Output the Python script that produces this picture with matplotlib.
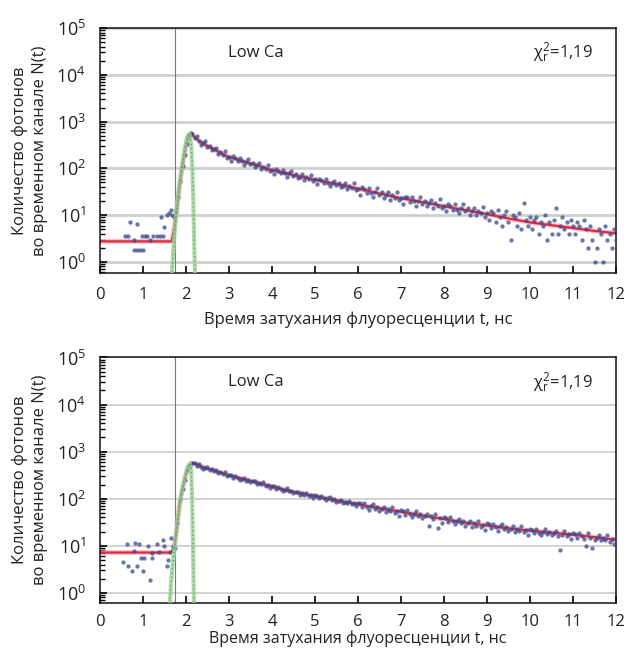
import numpy as np
import matplotlib
matplotlib.use("Agg")
import matplotlib.pyplot as plt
from matplotlib.ticker import LogLocator, FixedLocator, NullFormatter

plt.rcParams['font.family'] = ['Open Sans', 'DejaVu Sans']
plt.rcParams['mathtext.fontset'] = 'custom'
plt.rcParams['mathtext.rm'] = 'Open Sans'
plt.rcParams['mathtext.it'] = 'Open Sans'

# ---------------- data ----------------
x_ticks = list(range(0, 13))
y_decades = [1e0, 1e1, 1e2, 1e3, 1e4, 1e5]
excitation_t = 1.75
xlabel = "Время затухания флуоресценции t, нс"
ylabel = "Количество фотонов\nво временном канале N(t)"
label_sample = "Low Ca"
label_chi = "χ$^{2}_{r}$=1,19"

# decay channels (regular grid of 0.05 ns)
decay_step = 0.05
top_decay_start = 2.15
top_decay_counts = [
    546, 437, 482, 378, 314, 347, 378, 285, 305, 243,
    255, 276, 201, 224, 197, 238, 170, 177,
    143, 180, 168, 144, 168, 142, 121, 139, 156, 122,
    133, 108, 116, 128, 95, 108, 97, 120, 87, 93,
    76, 96, 90, 78, 92, 78, 67, 78, 87, 68,
    75, 62, 67, 75, 56, 66, 59, 73, 53, 58,
    47, 60, 57, 49, 58, 49, 43, 49, 55, 44,
    48, 40, 43, 48, 36, 42, 38, 48, 35, 37,
    27, 40, 37, 30, 39, 30, 24, 31, 38, 27,
    31, 23, 27, 32, 21, 27, 23, 32, 21, 23,
    17, 25, 24, 19, 25, 20, 16, 20, 25, 17,
    20, 16, 18, 21, 14, 18, 16, 22, 14, 16,
    12, 17, 16, 13, 17, 13, 11, 14, 17, 12,
    14, 10, 12, 14, 10, 12, 11, 15, 9, 11,
    8, 12, 11, 7, 13, 9, 6, 10, 12, 7,
    3, 10, 9, 6, 11, 5, 18, 8, 6, 9,
    5, 8, 9, 4, 7, 6, 10, 3, 7, 4,
    8, 14, 4, 6, 9, 5, 7, 4, 8, 6,
    4, 7, 6, 3, 8, 5, 2, 6, 3, 1,
    2, 5, 4, 1, 6, 3, 4, 2, 5, 3,
]
top_pre_t = [0.58, 0.65, 0.70, 0.78, 0.78, 0.85, 0.87, 0.93, 0.97, 1.00,
             1.05, 1.10, 1.17, 1.23, 1.32, 1.40, 1.41, 1.46, 1.49, 1.55,
             1.60, 1.64, 1.67, 1.72, 1.77, 1.82, 1.87, 1.92, 1.97, 2.02,
             2.07, 2.11]
top_pre_n = [3.6, 3.6, 7.3, 1.8, 3.0, 1.8, 6.5, 1.8, 3.6, 1.8,
             3.6, 3.6, 3.0, 3.6, 3.6, 3.6, 9.0, 3.6, 5.5, 10,
             11, 13, 10, 9, 12, 25, 55, 110, 190, 330,
             470, 560]

top_fit_t = [0, 1.67, 1.72, 1.77, 1.85, 1.90, 1.95, 2.00, 2.05, 2.10, 2.20,
             2.30, 2.40, 2.60, 2.80, 3.0, 3.5, 4.0, 4.5, 5.0, 5.5, 6.0, 6.5,
             7.0, 7.5, 8.0, 8.5, 9.0, 9.5, 10.0, 10.5, 11.0, 11.5, 12.0]
top_fit_n = [2.75, 2.75, 5, 10, 40, 90, 170, 300, 450, 555, 470,
             390, 340, 270, 215, 175, 128, 92, 72, 57, 46, 37, 29,
             23, 19, 15.5, 12.8, 10.5, 8.5, 7.0, 6.1, 5.3, 4.6, 4.1]

top_irf_t = [1.67, 1.70, 1.74, 1.77, 1.83, 1.90, 1.97, 2.03, 2.08, 2.12,
             2.15, 2.17, 2.19, 2.21]
top_irf_n = [0.5, 1.5, 5, 10, 35, 100, 260, 480, 550, 330, 90, 20, 3, 0.5]

bot_decay_start = 2.20
bot_decay_counts = [
    577, 504, 546, 480, 432, 460, 480, 412, 422,
    397, 408, 346, 367, 338, 374, 310, 318,
    318, 282, 309, 275, 251, 268, 281, 243, 252, 226,
    233, 240, 205, 218, 202, 224, 186, 192, 167, 189,
    182, 162, 179, 160, 146, 157, 165, 143, 147, 132,
    137, 142, 122, 131, 121, 135, 114, 119, 104, 119,
    115, 104, 114, 103, 95, 102, 108, 94, 97, 86,
    90, 94, 81, 87, 81, 91, 76, 80, 70, 80,
    81, 66, 81, 68, 59, 70, 78, 62, 68, 55,
    62, 68, 52, 61, 55, 68, 50, 56, 44, 58,
    56, 46, 57, 47, 40, 48, 54, 43, 47, 39,
    43, 48, 26, 43, 38, 47, 24, 39, 31, 41,
    39, 32, 40, 33, 29, 34, 38, 30, 33, 27,
    31, 34, 25, 30, 27, 34, 25, 28, 22, 30,
    29, 24, 29, 25, 21, 26, 29, 23, 25, 21,
    23, 26, 20, 23, 21, 26, 20, 22, 17, 23,
    22, 19, 23, 19, 17, 20, 23, 18, 20, 17,
    19, 21, 16, 8, 17, 21, 16, 18, 14, 19,
    18, 15, 19, 16, 14, 10, 19, 15, 9, 13,
    15, 17, 13, 15, 13, 17, 12, 14, 11, 15,
]
bot_pre_t = [0.54, 0.62, 0.66, 0.74, 0.78, 0.81, 0.85, 0.91, 0.95, 1.00,
             1.02, 1.12, 1.16, 1.20, 1.22, 1.32, 1.38, 1.46, 1.49, 1.55,
             1.59, 1.63, 1.65, 1.69, 1.74, 1.80, 1.86, 1.92, 1.97, 2.03,
             2.09, 2.14]
bot_pre_n = [4.6, 11, 3.7, 2.9, 7.8, 11.2, 3.7, 11, 5.6, 2.9,
             5.6, 9.7, 1.9, 7.2, 5.6, 11, 7.5, 13.4, 9.7, 3.7,
             5.0, 7.5, 14.6, 10, 9, 30, 95, 160, 250, 400,
             530, 575]

bot_fit_t = [0, 1.66, 1.70, 1.74, 1.80, 1.86, 1.92, 1.98, 2.04, 2.10, 2.15,
             2.20, 2.40, 2.60, 2.80, 3.0, 3.5, 4.0, 4.5, 5.0, 5.5, 6.0, 6.5,
             7.0, 7.5, 8.0, 8.5, 9.0, 9.5, 10.0, 10.5, 11.0, 11.5, 12.0]
bot_fit_n = [7.2, 7.2, 8.5, 11, 30, 85, 165, 280, 430, 540, 570,
             555, 470, 410, 360, 315, 240, 180, 140, 113, 92, 76, 63,
             53, 44, 37, 31, 27, 23.5, 21, 19, 17.2, 15.3, 13.4]

bot_irf_t = [1.62, 1.65, 1.69, 1.74, 1.80, 1.86, 1.92, 1.98, 2.04, 2.09,
             2.12, 2.14, 2.16, 2.175, 2.19]
bot_irf_n = [0.5, 1.5, 4, 10, 30, 90, 170, 300, 480, 560, 420, 120, 15, 2, 0.5]

panels = [
    dict(pre_t=top_pre_t, pre_n=top_pre_n, start=top_decay_start,
         counts=top_decay_counts, fit_t=top_fit_t, fit_n=top_fit_n,
         irf_t=top_irf_t, irf_n=top_irf_n, ymin=0.58, grid_lw=2.0,
         xpad=10, labelpad=6, xlabel_size=12,
         rect=[0.1592, 0.5832, 0.8217, 0.374]),
    dict(pre_t=bot_pre_t, pre_n=bot_pre_n, start=bot_decay_start,
         counts=bot_decay_counts, fit_t=bot_fit_t, fit_n=bot_fit_n,
         irf_t=bot_irf_t, irf_n=bot_irf_n, ymin=0.61, grid_lw=1.3,
         xpad=8, labelpad=0.5, xlabel_size=11.5,
         rect=[0.1592, 0.0794, 0.8217, 0.3748]),
]

fig = plt.figure(figsize=(6.28, 6.55), dpi=100)
fig.patch.set_facecolor('white')

for p in panels:
    ax = fig.add_axes(p['rect'])
    ax.set_yscale('log')
    ax.set_xlim(0, 12)
    ax.set_ylim(p['ymin'], 1e5)

    for d in y_decades:
        ax.axhline(d, color='#cfcfcf', lw=p['grid_lw'], zorder=0.5)
    ax.axvline(excitation_t, color='#7a7a7a', lw=0.8, zorder=1)

    dt = p['start'] + decay_step * np.arange(len(p['counts']))
    t_all = np.concatenate([np.array(p['pre_t']), dt])
    n_all = np.concatenate([np.array(p['pre_n']), np.array(p['counts'], float)])

    # fit curve
    ax.plot(p['fit_t'], p['fit_n'], color='#f4a0a8', lw=3.6, alpha=0.6,
            zorder=2, solid_capstyle='butt')
    ax.plot(p['fit_t'], p['fit_n'], color='#e2283e', lw=1.6, zorder=2.2)
    # data points
    ax.plot(t_all, n_all, ls='none', marker='o', ms=3.1, mew=0,
            color='#3b4a8c', alpha=0.75, zorder=3)
    # instrument response
    ax.plot(p['irf_t'], p['irf_n'], color='#9ad39a', lw=3.0, alpha=0.8,
            zorder=4)
    ax.plot(p['irf_t'], p['irf_n'], color='#4e9e4e', lw=1.0, ls=(0, (1, 2)),
            alpha=0.8, zorder=4.1)

    ax.xaxis.set_major_locator(FixedLocator(x_ticks))
    ax.yaxis.set_major_locator(FixedLocator(y_decades))
    ax.yaxis.set_minor_locator(LogLocator(base=10, subs=np.arange(2, 10)))
    ax.yaxis.set_minor_formatter(NullFormatter())
    ax.tick_params(axis='both', which='major', direction='in', length=5,
                   width=1.2, color='black', labelcolor='#222222')
    ax.tick_params(axis='x', which='major', labelsize=12, pad=p['xpad'])
    ax.tick_params(axis='y', which='major', labelsize=13, pad=10)
    ax.tick_params(axis='y', which='minor', direction='in', length=3.5,
                   width=1.0, color='black')
    ax.tick_params(axis='x', which='minor', bottom=False)
    for s in ax.spines.values():
        s.set_linewidth(1.1)
        s.set_color('#111111')

    ax.set_xlabel(xlabel, fontsize=p['xlabel_size'], labelpad=p['labelpad'],
                  color='#222222')
    ax.text(3.63, 10 ** 4.47, label_sample, ha='center', va='center',
            fontsize=12, color='#222222', zorder=5)
    ax.text(10.77, 10 ** 4.47, label_chi, ha='center', va='center',
            fontsize=12, color='#222222', zorder=5)

    b = p['rect'][1] + p['rect'][3] / 2
    fig.text(30 / 628, b, ylabel, rotation=90, ha='center', va='center',
             fontsize=12, linespacing=1.3, multialignment='center',
             color='#222222')

fig.savefig('out.png', dpi=100, facecolor='white')
